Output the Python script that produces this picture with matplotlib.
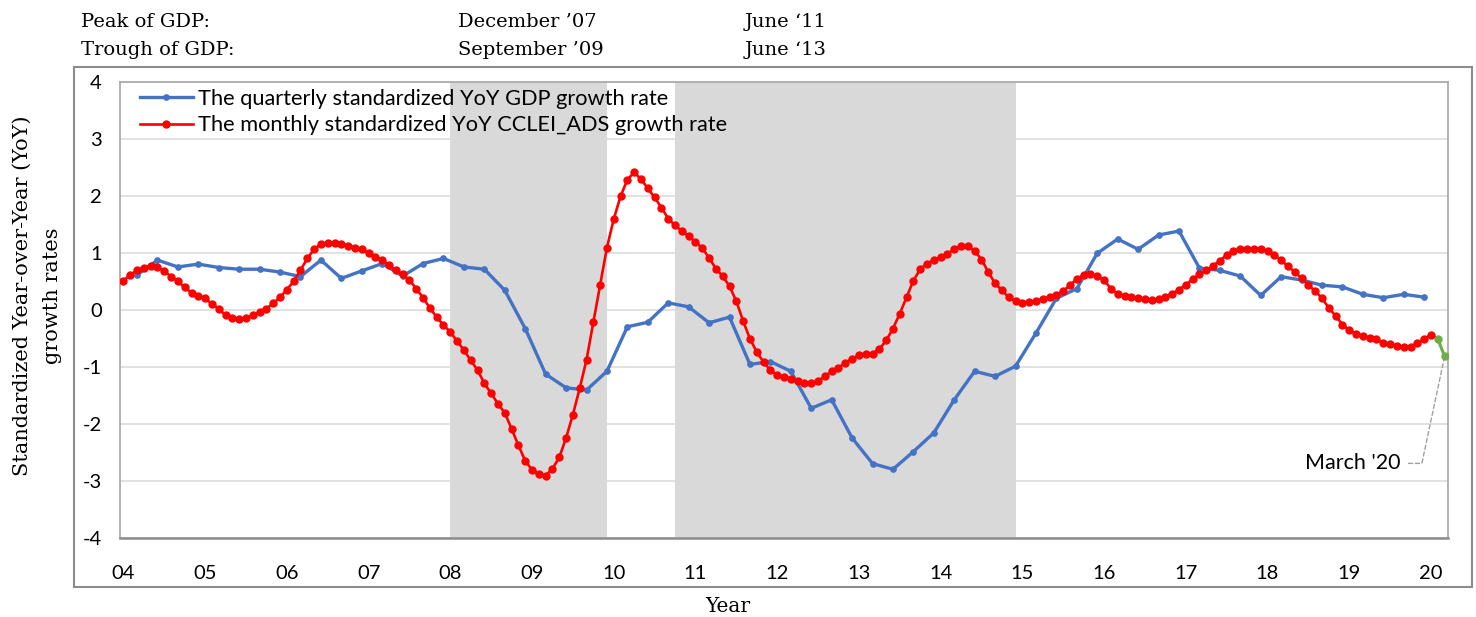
import numpy as np
import matplotlib
matplotlib.use("Agg")
import matplotlib.pyplot as plt
from matplotlib.patches import Rectangle

plt.rcParams["axes.unicode_minus"] = False

# ---------------- data ----------------
year_labels = ["04", "05", "06", "07", "08", "09", "10", "11", "12",
               "13", "14", "15", "16", "17", "18", "19", "20"]

# monthly standardized YoY CCLEI_ADS growth rate, Jan 2004 .. Jan 2020
cclei_monthly = [
    0.51, 0.61, 0.69, 0.74, 0.77, 0.75, 0.68, 0.58, 0.50, 0.39, 0.30, 0.24,   # 2004
    0.20, 0.10, 0.02, -0.10, -0.15, -0.17, -0.15, -0.10, -0.04, 0.02, 0.11, 0.22,  # 2005
    0.35, 0.50, 0.69, 0.90, 1.06, 1.15, 1.17, 1.17, 1.15, 1.12, 1.09, 1.06,   # 2006
    0.99, 0.93, 0.87, 0.78, 0.69, 0.62, 0.52, 0.37, 0.21, 0.03, -0.13, -0.27,  # 2007
    -0.39, -0.55, -0.71, -0.89, -1.06, -1.29, -1.47, -1.65, -1.81, -2.09, -2.38, -2.65,  # 2008
    -2.81, -2.89, -2.91, -2.79, -2.59, -2.25, -1.84, -1.38, -0.88, -0.22, 0.43, 1.09,  # 2009
    1.59, 1.99, 2.28, 2.41, 2.29, 2.13, 1.97, 1.79, 1.60, 1.48, 1.38, 1.29,   # 2010
    1.19, 1.08, 0.91, 0.72, 0.59, 0.41, 0.15, -0.20, -0.51, -0.74, -0.92, -1.06,  # 2011
    -1.15, -1.18, -1.21, -1.25, -1.28, -1.29, -1.25, -1.17, -1.08, -1.02, -0.93, -0.86,  # 2012
    -0.80, -0.78, -0.77, -0.69, -0.54, -0.33, -0.07, 0.22, 0.51, 0.71, 0.81, 0.87,  # 2013
    0.92, 0.98, 1.06, 1.12, 1.12, 1.03, 0.88, 0.66, 0.46, 0.34, 0.22, 0.15,   # 2014
    0.12, 0.13, 0.15, 0.19, 0.22, 0.26, 0.33, 0.43, 0.54, 0.61, 0.62, 0.59,   # 2015
    0.52, 0.37, 0.27, 0.24, 0.23, 0.21, 0.18, 0.17, 0.18, 0.23, 0.28, 0.35,   # 2016
    0.44, 0.53, 0.62, 0.69, 0.77, 0.86, 0.96, 1.03, 1.06, 1.06, 1.06, 1.06,   # 2017
    1.03, 0.96, 0.87, 0.76, 0.66, 0.55, 0.43, 0.33, 0.20, 0.03, -0.11, -0.26,  # 2018
    -0.36, -0.42, -0.46, -0.49, -0.52, -0.58, -0.61, -0.64, -0.66, -0.65, -0.59, -0.51,  # 2019
    -0.44,                                                                     # Jan 2020
]

# Feb 2020 .. March 2020 (green tail)
cclei_tail = [-0.51, -0.82]

# quarterly standardized YoY GDP growth rate, 2004Q1 .. 2019Q4
gdp_quarterly = [
    0.61, 0.87, 0.75, 0.80,   # 2004
    0.74, 0.71, 0.71, 0.66,   # 2005
    0.58, 0.87, 0.55, 0.68,   # 2006
    0.81, 0.59, 0.81, 0.90,   # 2007
    0.75, 0.71, 0.34, -0.33,  # 2008
    -1.13, -1.37, -1.41, -1.08,  # 2009
    -0.30, -0.22, 0.12, 0.05,    # 2010
    -0.23, -0.13, -0.96, -0.91,  # 2011
    -1.08, -1.73, -1.58, -2.25,  # 2012
    -2.70, -2.80, -2.49, -2.16,  # 2013
    -1.58, -1.08, -1.17, -0.99,  # 2014
    -0.41, 0.20, 0.37, 0.99,     # 2015
    1.24, 1.06, 1.31, 1.38,      # 2016
    0.73, 0.69, 0.59, 0.25,      # 2017
    0.58, 0.52, 0.43, 0.40,      # 2018
    0.27, 0.21, 0.27, 0.22,      # 2019
]

# shaded periods, in month index since Jan 2004 (category positions)
shade_starts = [48, 81]
shade_ends = [71, 131]

legend_labels = ["The quarterly standardized YoY GDP growth rate",
                 "The monthly standardized YoY CCLEI_ADS growth rate"]

# ---------------- positions on the monthly category axis ----------------
n_months = len(cclei_monthly) + len(cclei_tail)
x_month = np.arange(len(cclei_monthly))
x_tail = np.arange(len(cclei_monthly), n_months)
x_quarter = np.arange(len(gdp_quarterly)) * 3 + 2     # quarter-end months
x_year_ticks = np.arange(len(year_labels)) * 12

# ---------------- figure ----------------
W, H = 1476, 617
fig = plt.figure(figsize=(W / 100, H / 100), dpi=100)

sans = ["Lato", "DejaVu Sans"]
serif = ["DejaVu Serif"]

L, R, T, B = 120, 1448, 81.7, 537.7
ax = fig.add_axes([L / W, 1 - B / H, (R - L) / W, (B - T) / H])
ax.set_xlim(-0.5, n_months - 0.5)
ax.set_ylim(-4, 4)

ax.set_axisbelow(True)
ax.yaxis.grid(True, color="#D9D9D9", lw=1.1, zorder=0.5)
ax.set_yticks(np.arange(-4, 5, 1))
ax.set_xticks(x_year_ticks)
ax.set_xticklabels(year_labels)

for s, e in zip(shade_starts, shade_ends):
    ax.axvspan(s, e, color="#D9D9D9", lw=0, zorder=1)

blue = "#4472C4"
red = "#FF0000"
green = "#70AD47"

ax.plot(x_quarter, gdp_quarterly, color=blue, lw=2.4, marker="o", ms=3.8,
        zorder=3, label=legend_labels[0])
ax.plot(x_month, cclei_monthly, color=red, lw=1.9, marker="o", ms=5.0,
        zorder=4, label=legend_labels[1])
ax.plot([x_month[-1], x_tail[0]], [cclei_monthly[-1], cclei_tail[0]],
        color=red, lw=1.9, zorder=4)
ax.plot(x_tail, cclei_tail, color=green, lw=2.2, marker="o", ms=5.0, zorder=5)

ax.tick_params(axis="both", length=0)
ax.tick_params(axis="x", pad=20, labelsize=14.5)
ax.tick_params(axis="y", pad=13, labelsize=14.5)
for lab in ax.get_xticklabels() + ax.get_yticklabels():
    lab.set_fontfamily(sans)

for side in ["left", "top", "right"]:
    ax.spines[side].set_color("#A6A6A6")
    ax.spines[side].set_linewidth(1.2)
ax.spines["bottom"].set_color("#8C8C8C")
ax.spines["bottom"].set_linewidth(1.8)

leg = ax.legend(loc="upper left", bbox_to_anchor=(18 / (R - L), 1 - 5 / (B - T)),
                frameon=False, borderaxespad=0, borderpad=0.1,
                handlelength=2.4, handletextpad=0.25, labelspacing=0.3,
                prop={"family": sans, "size": 15.7})

# annotation for March '20
ax.annotate("March '20", xy=(x_tail[-1], cclei_tail[-1]),
            xytext=(-32, -77), textcoords="offset points",
            ha="right", va="center", fontsize=15.5, fontfamily=sans,
            arrowprops=dict(arrowstyle="-", color="#A0A0A0", lw=1.0,
                            linestyle=(0, (3, 2)), shrinkA=4, shrinkB=0,
                            connectionstyle="angle,angleA=0,angleB=78,rad=0"))

# axis titles
fig.text(22 / W, 1 - 296 / H, "Standardized Year-over-Year (YoY)", rotation=90,
         ha="center", va="center", fontsize=15, fontfamily=serif)
fig.text(53 / W, 1 - 296 / H, "growth rates", rotation=90,
         ha="center", va="center", fontsize=15, fontfamily=serif)
fig.text(728 / W, 1 - 607 / H, "Year", ha="center", va="center",
         fontsize=14.5, fontfamily=serif)

# header rows
hdr = dict(fontsize=14, fontfamily=serif, va="baseline", ha="left")
fig.text(81 / W, 1 - 27 / H, "Peak of GDP:", **hdr)
fig.text(458 / W, 1 - 27 / H, "December \u201907", **hdr)
fig.text(745 / W, 1 - 27 / H, "June \u201811", **hdr)
fig.text(81 / W, 1 - 55 / H, "Trough of GDP:", **hdr)
fig.text(458 / W, 1 - 55 / H, "September \u201909", **hdr)
fig.text(745 / W, 1 - 55 / H, "June \u201813", **hdr)

# outer chart-area border
fig.patches.append(Rectangle((74 / W, 1 - 586.7 / H), (1472 - 74) / W,
                             (586.7 - 66.7) / H, transform=fig.transFigure,
                             fill=False, ec="#8C8C8C", lw=1.5))

fig.savefig("out.png", dpi=100)
